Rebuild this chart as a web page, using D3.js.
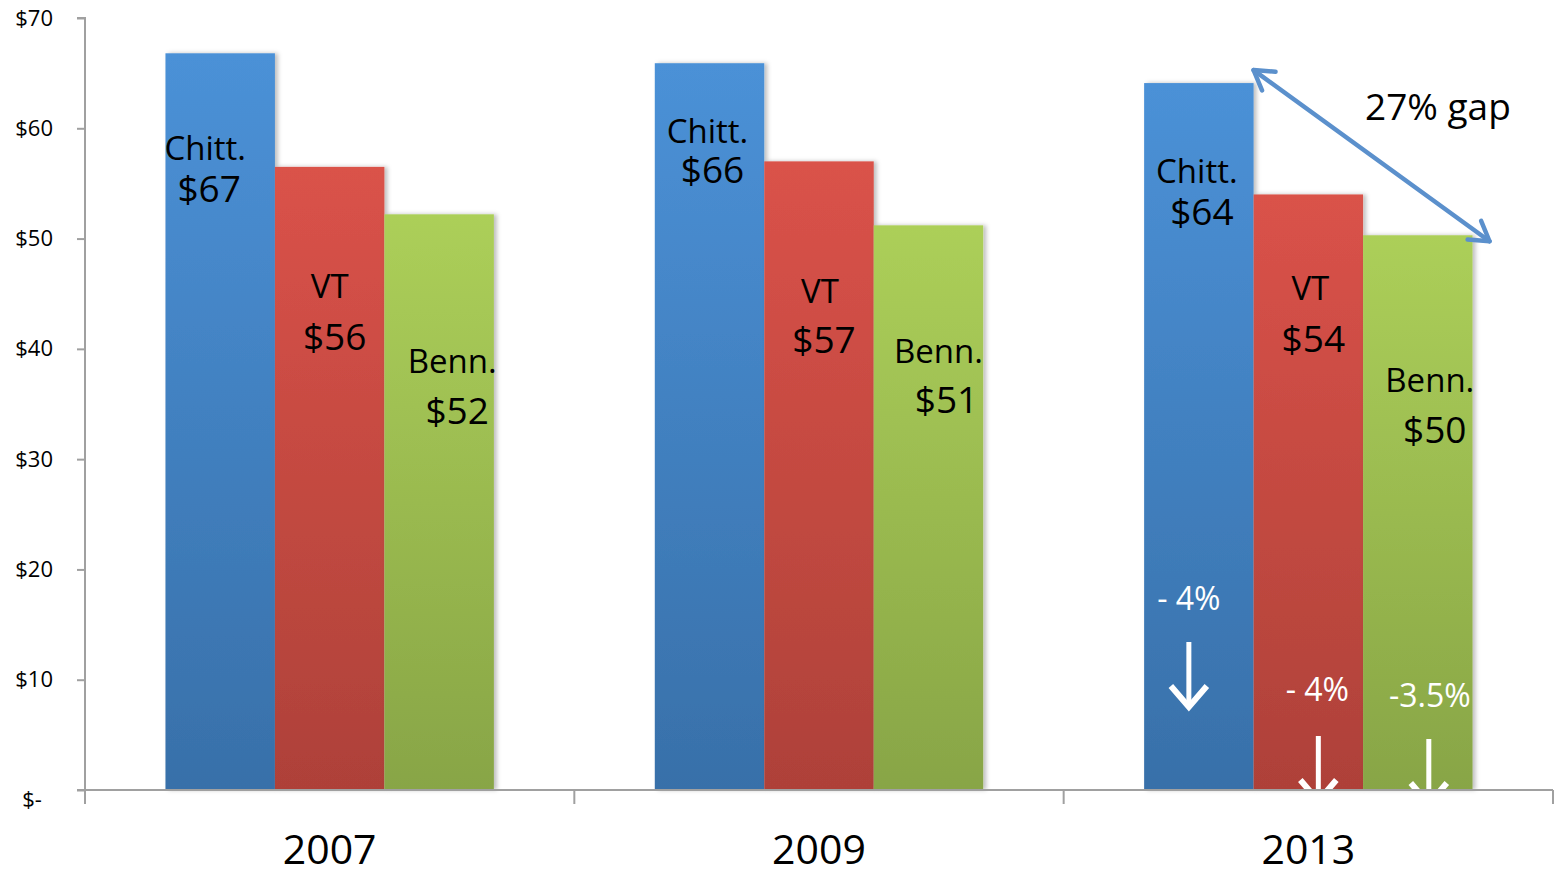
<!DOCTYPE html>
<html lang="en">

<head>
    <meta charset="UTF-8">
    <title>Per-capita cost by county</title>
    <style>
        body {
            margin: 0;
            background: #fff;
        }

        text {
            font-family: "Open Sans", "Noto Sans", sans-serif;
        }
    </style>
</head>

<body>
    <svg width="1557" height="872"></svg>
    <script src="https://d3js.org/d3.v7.min.js"></script>
    <script>

        // data
        let years = ["2007", "2009", "2013"],
            series = ["Chitt.", "VT", "Benn."],
            chitt = [66.8, 65.9, 64.1],
            vt = [56.5, 57.0, 54.0],
            benn = [52.2, 51.2, 50.3],
            valueLabels = [["$67", "$56", "$52"], ["$66", "$57", "$51"], ["$64", "$54", "$50"]],
            yTicks = [0, 10, 20, 30, 40, 50, 60, 70],
            changes = ["- 4%", "- 4%", "-3.5%"],
            gapNote = "27% gap";

        let values = [chitt, vt, benn];

        // label placement: [name dx, name baseline, value dx, value baseline], dx from bar centre
        let labelPos = [
            [[-15, 160, -11, 202], [0, 298, 5, 350], [13, 373, 18, 424]],
            [[-2, 143, 3, 183], [1, 303, 5, 353], [10, 363, 18, 413]],
            [[-2, 183, 3, 225], [2, 300, 5, 352], [12, 392, 17, 443]]
        ];

        let gradients = [
            ["#4b91d7", "#3870a9"],
            ["#da5249", "#ae4139"],
            ["#accf59", "#88a546"]
        ];

        let svg = d3.select("svg"),
            mLeft = 85, mRight = 1553, mTop = 18, mBottom = 790;

        let x = d3.scaleBand().domain(years).range([mLeft, mRight]),
            xs = d3.scaleBand().domain(series).range([0, x.bandwidth()]).paddingOuter(0.735),
            y = d3.scaleLinear().domain([0, 70]).range([mBottom, mTop]);

        let defs = svg.append("defs");
        gradients.forEach(function (g, i) {
            let lg = defs.append("linearGradient")
                .attr("id", "g" + i)
                .attr("x1", 0).attr("y1", 0).attr("x2", 0).attr("y2", 1);
            lg.append("stop").attr("offset", "0%").attr("stop-color", g[0]);
            lg.append("stop").attr("offset", "100%").attr("stop-color", g[1]);
        });
        let f = defs.append("filter").attr("id", "shadow")
            .attr("x", "-10%").attr("y", "-10%").attr("width", "130%").attr("height", "120%");
        f.append("feDropShadow").attr("dx", 3).attr("dy", 0).attr("stdDeviation", 2)
            .attr("flood-color", "#000").attr("flood-opacity", 0.25);
        defs.append("clipPath").attr("id", "plot")
            .append("rect").attr("x", 0).attr("y", 0).attr("width", 1557).attr("height", mBottom - 1);

        // bars
        years.forEach(function (yr, yi) {
            let g = svg.append("g").attr("transform", "translate(" + x(yr) + ",0)");
            series.forEach(function (s, si) {
                let v = values[si][yi];
                g.append("rect")
                    .attr("x", xs(s))
                    .attr("y", y(v))
                    .attr("width", xs.bandwidth())
                    .attr("height", y(0) - y(v))
                    .attr("fill", "url(#g" + si + ")")
                    .attr("filter", "url(#shadow)");
            });
        });

        // labels in bars
        years.forEach(function (yr, yi) {
            series.forEach(function (s, si) {
                let p = labelPos[yi][si],
                    cx = x(yr) + xs(s) + xs.bandwidth() / 2;
                svg.append("text")
                    .attr("x", cx + p[0]).attr("y", p[1])
                    .attr("text-anchor", "middle")
                    .attr("font-size", 33)
                    .text(s);
                svg.append("text")
                    .attr("x", cx + p[2]).attr("y", p[3])
                    .attr("text-anchor", "middle")
                    .attr("font-size", 37)
                    .text(valueLabels[yi][si]);
            });
        });

        // 2013 change notes with white arrows: [text dx, baseline, arrow dx, shaft top, tip]
        let last = years[years.length - 1],
            changePos = [[-10, 610, -10, 642, 711], [9, 701, 10, 736, 805], [12, 707, 11, 739, 808]];
        let arrows = svg.append("g").attr("clip-path", "url(#plot)");
        series.forEach(function (s, si) {
            let cx = x(last) + xs(s) + xs.bandwidth() / 2,
                p = changePos[si];
            svg.append("text")
                .attr("x", cx + p[0]).attr("y", p[1])
                .attr("text-anchor", "middle")
                .attr("font-size", 32)
                .attr("fill", "#fff")
                .text(changes[si]);
            let ax = cx + p[2];
            arrows.append("line")
                .attr("x1", ax).attr("x2", ax)
                .attr("y1", p[3]).attr("y2", p[4] - 3)
                .attr("stroke", "#fff").attr("stroke-width", 5);
            arrows.append("path")
                .attr("d", "M" + (ax - 18) + "," + (p[4] - 25) + "L" + ax + "," + (p[4] - 4) + "L" + (ax + 18) + "," + (p[4] - 25))
                .attr("fill", "none")
                .attr("stroke", "#fff").attr("stroke-width", 6);
        });

        // y axis
        let yAxis = svg.append("g")
            .attr("transform", "translate(" + mLeft + ",0)")
            .call(d3.axisLeft(y).tickValues(yTicks).tickSize(8).tickPadding(24)
                .tickFormat(function (d) { return d === 0 ? "$-" : "$" + d; }));
        yAxis.selectAll("path, line").attr("stroke", "#a0a0a0").attr("stroke-width", 2);
        yAxis.select(".domain").attr("d", "M-8," + mTop + "H0V" + mBottom + "H-8");
        yAxis.selectAll("text")
            .attr("font-size", 22)
            .attr("fill", "#000")
            .attr("font-family", "'Open Sans', sans-serif");
        yAxis.selectAll(".tick text").filter(function (d) { return d === 0; })
            .attr("text-anchor", "middle").attr("x", -53).attr("dy", "0.75em");

        // x axis
        let xAxis = svg.append("g")
            .attr("transform", "translate(0," + mBottom + ")");
        xAxis.append("path")
            .attr("d", "M" + mLeft + ",0H" + mRight)
            .attr("stroke", "#a0a0a0").attr("stroke-width", 2).attr("fill", "none");
        let edges = years.map(function (d) { return x(d); }).concat([mRight]);
        xAxis.selectAll(".xt").data(edges).enter().append("line")
            .attr("x1", function (d) { return d; }).attr("x2", function (d) { return d; })
            .attr("y1", 0).attr("y2", 14)
            .attr("stroke", "#a0a0a0").attr("stroke-width", 2);
        xAxis.selectAll(".yl").data(years).enter().append("text")
            .attr("x", function (d) { return x(d) + x.bandwidth() / 2; })
            .attr("y", 74)
            .attr("text-anchor", "middle")
            .attr("font-size", 41)
            .text(function (d) { return d; });

        // gap annotation
        let ax1 = x(last) + xs(series[0]) + xs.bandwidth(),
            ax2 = x(last) + xs(series[2]) + xs.bandwidth() + 17,
            ay1 = y(values[0][2]) - 13,
            ay2 = y(values[2][2]) + 6;
        let ang = Math.atan2(ay2 - ay1, ax2 - ax1), hl = 22, ha = 0.55;
        function head(px, py, a) {
            return "M" + (px + hl * Math.cos(a + ha)) + "," + (py + hl * Math.sin(a + ha)) +
                "L" + px + "," + py +
                "L" + (px + hl * Math.cos(a - ha)) + "," + (py + hl * Math.sin(a - ha));
        }
        let ga = svg.append("g").attr("stroke", "#5b90cc").attr("stroke-width", 4.5)
            .attr("fill", "none").attr("stroke-linecap", "round").attr("stroke-linejoin", "round");
        ga.append("line").attr("x1", ax1).attr("y1", ay1).attr("x2", ax2).attr("y2", ay2);
        ga.append("path").attr("d", head(ax1, ay1, ang));
        ga.append("path").attr("d", head(ax2, ay2, ang + Math.PI));

        svg.append("text")
            .attr("x", 1365).attr("y", 120)
            .attr("font-size", 37)
            .text(gapNote);

    </script>
</body>

</html>
